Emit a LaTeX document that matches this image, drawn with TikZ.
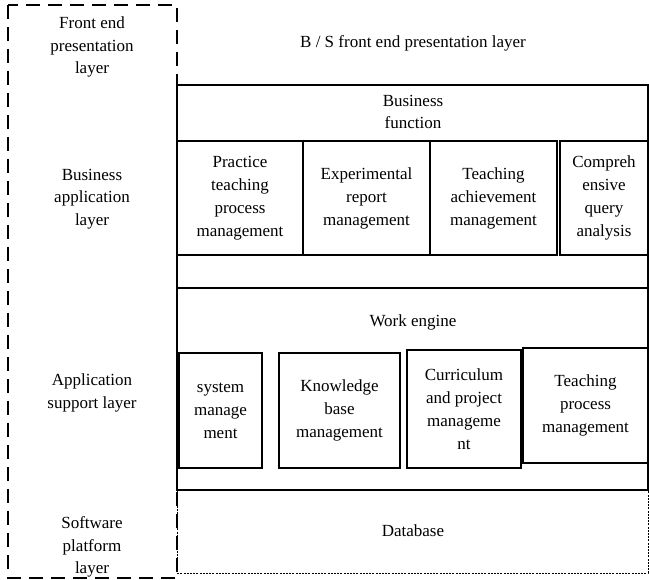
\documentclass[tikz,border=0pt]{standalone}
\usepackage{fontspec}
\setmainfont{Liberation Serif}
\tikzset{
  module/.style={draw,line width=1.1pt,align=center,inner sep=0pt,font=\fontsize{17}{23}\selectfont},
  lbl/.style={align=center,inner sep=0pt,font=\fontsize{17}{22.5}\selectfont}
}
\begin{document}
\begin{tikzpicture}[x=1pt,y=-1pt]
    \useasboundingbox (0,0) rectangle (649,580);
    \draw[line width=1.3pt,dash pattern=on 14pt off 8pt] (8,5) rectangle (177,578);
    \draw[line width=1.1pt] (177,85) rectangle (648,288);
    \draw[line width=1.1pt] (177,288) rectangle (648,490);
    \draw[line width=0.9pt,dash pattern=on 2pt off 1.2pt] (177,490) -- (177,573) -- (648,573) -- (648,490);
    \node[lbl] (l0) at (92,47) {Front end\\presentation\\layer};
    \node[lbl] (l1) at (92,199) {Business\\application\\layer};
    \node[lbl] (l2) at (92,393) {Application\\support layer};
    \node[lbl] (l3) at (92,547) {Software\\platform\\layer};
    \node[lbl] (t0) at (413,43) {B / S front end presentation layer};
    \node[lbl] (t1) at (413,112) {Business\\function};
    \node[lbl] (t2) at (413,322) {Work engine};
    \node[lbl] (t3) at (413,531) {Database};
    \node[module,minimum width=126pt,minimum height=114pt] (b1) at (240,198) {Practice\\teaching\\process\\management};
    \node[module,minimum width=127pt,minimum height=114pt] (b2) at (366.5,198) {Experimental\\report\\management};
    \node[module,minimum width=127pt,minimum height=114pt] (b3) at (493.5,198) {Teaching\\achievement\\management};
    \node[module,minimum width=88pt,minimum height=114pt] (b4) at (604,198) {Compreh\\ensive\\query\\analysis};
    \node[module,minimum width=83pt,minimum height=115pt] (w1) at (220.5,410.5) {system\\manage\\ment};
    \node[module,minimum width=121pt,minimum height=115pt] (w2) at (339.5,410.5) {Knowledge\\base\\management};
    \node[module,minimum width=114pt,minimum height=118pt] (w3) at (464,409) {Curriculum\\and project\\manageme\\nt};
    \node[module,minimum width=125pt,minimum height=115pt] (w4) at (585.5,405.5) {Teaching\\process\\management};
\end{tikzpicture}
\end{document}
